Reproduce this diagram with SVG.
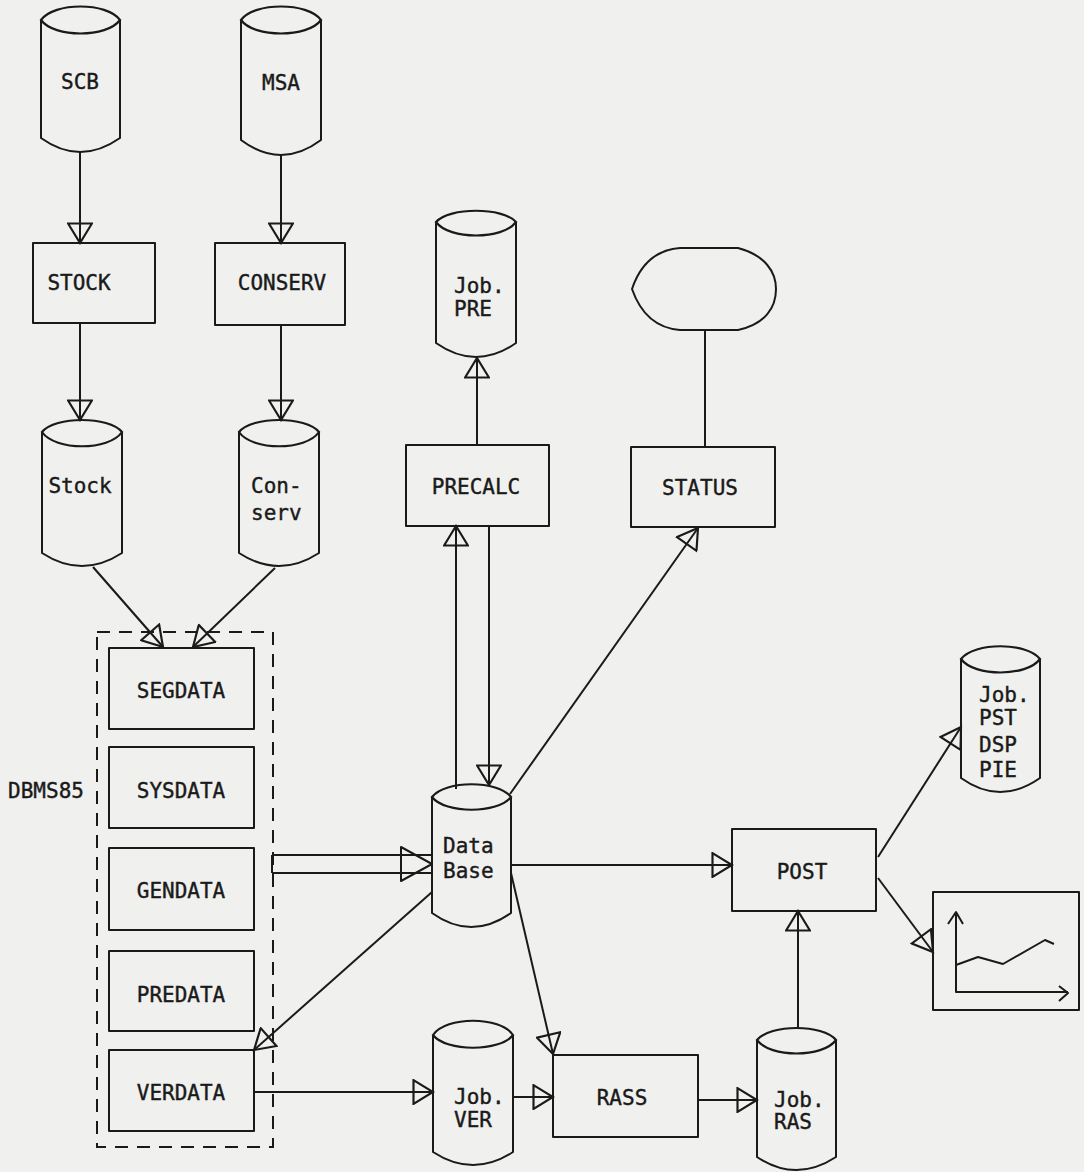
<svg xmlns="http://www.w3.org/2000/svg" width="1084" height="1172" viewBox="0 0 1084 1172">
<style>
.s{fill:none;stroke:#1a1a1a;stroke-width:2;stroke-linejoin:round}
.c{fill:none;stroke:#1a1a1a;stroke-width:2}
.lens{fill:none;stroke:#1a1a1a;stroke-width:2.2}
text{font-family:"DejaVu Sans Mono","Liberation Mono",monospace;font-size:21px;fill:#1a1a1a;stroke:#1a1a1a;stroke-width:0.4}
.m{text-anchor:middle}
.dash{fill:none;stroke:#1a1a1a;stroke-width:2;stroke-dasharray:13 9}
</style>
<defs>
<marker id="ah" markerUnits="userSpaceOnUse" markerWidth="24" markerHeight="26" viewBox="0 0 20 24" refX="19" refY="12" orient="auto">
<path d="M1,1 L19,12 L1,23 Z" fill="none" stroke="#1a1a1a" stroke-width="2"/>
</marker>
</defs>
<rect width="1084" height="1172" fill="#f0f0ee"/>

<g id="scb">
<path class="lens" d="M41,20 C54,2 107,2 120,20 C107,38 54,38 41,20 Z"/>
<path class="s" d="M41,20 L41,138 Q80,166 120,138 L120,20"/>
<text class="m" x="80" y="89">SCB</text>
</g>
<g id="msa">
<path class="lens" d="M241,20 C254,2 308,2 321,20 C308,38 254,38 241,20 Z"/>
<path class="s" d="M241,20 L241,140 Q281,170 321,140 L321,20"/>
<text class="m" x="281" y="90">MSA</text>
</g>
<g id="stock-proc">
<rect class="s" x="33" y="243" width="122" height="80"/>
<text class="m" x="79" y="290">STOCK</text>
</g>
<g id="conserv-proc">
<rect class="s" x="215" y="243" width="130" height="82"/>
<text class="m" x="282" y="290">CONSERV</text>
</g>
<g id="stock-db">
<path class="lens" d="M42,432 C55,416 109,416 122,432 C109,451 55,451 42,432 Z"/>
<path class="s" d="M42,432 L42,553 Q82,579 122,553 L122,432"/>
<text class="m" x="80" y="493">Stock</text>
</g>
<g id="conserv-db">
<path class="lens" d="M239,432 C252,416 306,416 319,432 C306,451 252,451 239,432 Z"/>
<path class="s" d="M239,432 L239,553 Q279,579 319,553 L319,432"/>
<text x="251" y="493">Con-</text>
<text x="251" y="520">serv</text>
</g>

<g id="dbms85">
<rect class="dash" x="97" y="632" width="176" height="515"/>
<text class="m" x="46" y="798">DBMS85</text>
</g>
<g id="segdata"><rect class="s" x="109" y="648" width="145" height="81"/><text class="m" x="181" y="698">SEGDATA</text></g>
<g id="sysdata"><rect class="s" x="109" y="747" width="145" height="81"/><text class="m" x="181" y="798">SYSDATA</text></g>
<g id="gendata"><rect class="s" x="109" y="848" width="145" height="82"/><text class="m" x="181" y="898">GENDATA</text></g>
<g id="predata"><rect class="s" x="109" y="951" width="145" height="80"/><text class="m" x="181" y="1002">PREDATA</text></g>
<g id="verdata"><rect class="s" x="109" y="1050" width="145" height="81"/><text class="m" x="181" y="1100">VERDATA</text></g>

<g id="job-pre">
<path class="lens" d="M436,222 C449,207 503,207 516,222 C503,240 449,240 436,222 Z"/>
<path class="s" d="M436,222 L436,343 Q476,371 516,343 L516,222"/>
<text x="454" y="293">Job.</text>
<text x="454" y="316">PRE</text>
</g>
<g id="precalc">
<rect class="s" x="406" y="445" width="143" height="81"/>
<text class="m" x="476" y="494">PRECALC</text>
</g>
<g id="display">
<path class="s" d="M632,289 C640,265 655,250 680,248 L738,248 C765,255 776,272 776,289 C776,308 765,324 738,330 L680,330 C655,328 640,312 632,289 Z"/>
</g>
<g id="status">
<rect class="s" x="631" y="447" width="144" height="80"/>
<text class="m" x="700" y="495">STATUS</text>
</g>
<g id="database">
<path class="lens" d="M432,797 C445,780 498,780 511,797 C498,814 445,814 432,797 Z"/>
<path class="s" d="M432,797 L432,913 Q471,941 511,913 L511,797"/>
<text x="443" y="853">Data</text>
<text x="443" y="878">Base</text>
</g>
<g id="post">
<rect class="s" x="732" y="829" width="144" height="82"/>
<text class="m" x="802" y="879">POST</text>
</g>
<g id="job-pst">
<path class="lens" d="M961,659 C974,642 1027,642 1040,659 C1027,677 974,677 961,659 Z"/>
<path class="s" d="M961,659 L961,778 Q1000,806 1040,778 L1040,659"/>
<text x="979" y="702">Job.</text>
<text x="979" y="725">PST</text>
<text x="979" y="752">DSP</text>
<text x="979" y="777">PIE</text>
</g>
<g id="graph">
<rect class="s" x="933" y="892" width="146" height="118"/>
<path class="s" d="M956,913 L956,992 L1068,992 M948,924 L956,912 L963,924 M1059,986 L1068,993 L1059,1001 M956,965 L978,957 L1003,964 L1045,940 L1054,944"/>
</g>
<g id="job-ver">
<path class="lens" d="M433,1035 C446,1016 500,1016 513,1035 C500,1052 446,1052 433,1035 Z"/>
<path class="s" d="M433,1035 L433,1152 Q473,1178 513,1152 L513,1035"/>
<text x="454" y="1104">Job.</text>
<text x="454" y="1127">VER</text>
</g>
<g id="rass">
<rect class="s" x="553" y="1055" width="145" height="82"/>
<text class="m" x="622" y="1105">RASS</text>
</g>
<g id="job-ras">
<path class="lens" d="M757,1040 C770,1024 823,1024 836,1040 C823,1058 770,1058 757,1040 Z"/>
<path class="s" d="M757,1040 L757,1157 Q796,1183 836,1157 L836,1040"/>
<text x="774" y="1107">Job.</text>
<text x="774" y="1129">RAS</text>
</g>

<g id="connectors">
<line class="c" x1="80" y1="152" x2="80" y2="243" marker-end="url(#ah)"/>
<line class="c" x1="281" y1="155" x2="281" y2="243" marker-end="url(#ah)"/>
<line class="c" x1="80" y1="323" x2="80" y2="420" marker-end="url(#ah)"/>
<line class="c" x1="281" y1="325" x2="281" y2="420" marker-end="url(#ah)"/>
<line class="c" x1="93" y1="567" x2="163" y2="647" marker-end="url(#ah)"/>
<line class="c" x1="275" y1="568" x2="193" y2="647" marker-end="url(#ah)"/>
<line class="c" x1="477" y1="445" x2="477" y2="358" marker-end="url(#ah)"/>
<line class="c" x1="705" y1="330" x2="705" y2="447"/>
<line class="c" x1="456" y1="789" x2="456" y2="526" marker-end="url(#ah)"/>
<line class="c" x1="489" y1="526" x2="489" y2="785" marker-end="url(#ah)"/>
<line class="c" x1="510" y1="794" x2="698" y2="528" marker-end="url(#ah)"/>
<path class="s" d="M272,855 L432,855 M272,873 L432,873 M272,855 L272,873 M401,847 L432,864 L401,881 Z"/>
<line class="c" x1="511" y1="865" x2="732" y2="865" marker-end="url(#ah)"/>
<line class="c" x1="432" y1="892" x2="254" y2="1050" marker-end="url(#ah)"/>
<line class="c" x1="511" y1="873" x2="553" y2="1054" marker-end="url(#ah)"/>
<line class="c" x1="254" y1="1092" x2="433" y2="1092" marker-end="url(#ah)"/>
<line class="c" x1="513" y1="1097" x2="553" y2="1097" marker-end="url(#ah)"/>
<line class="c" x1="698" y1="1100" x2="757" y2="1100" marker-end="url(#ah)"/>
<line class="c" x1="798" y1="1028" x2="798" y2="911" marker-end="url(#ah)"/>
<line class="c" x1="878" y1="857" x2="961" y2="727" marker-end="url(#ah)"/>
<line class="c" x1="878" y1="878" x2="933" y2="952" marker-end="url(#ah)"/>
</g>
</svg>
